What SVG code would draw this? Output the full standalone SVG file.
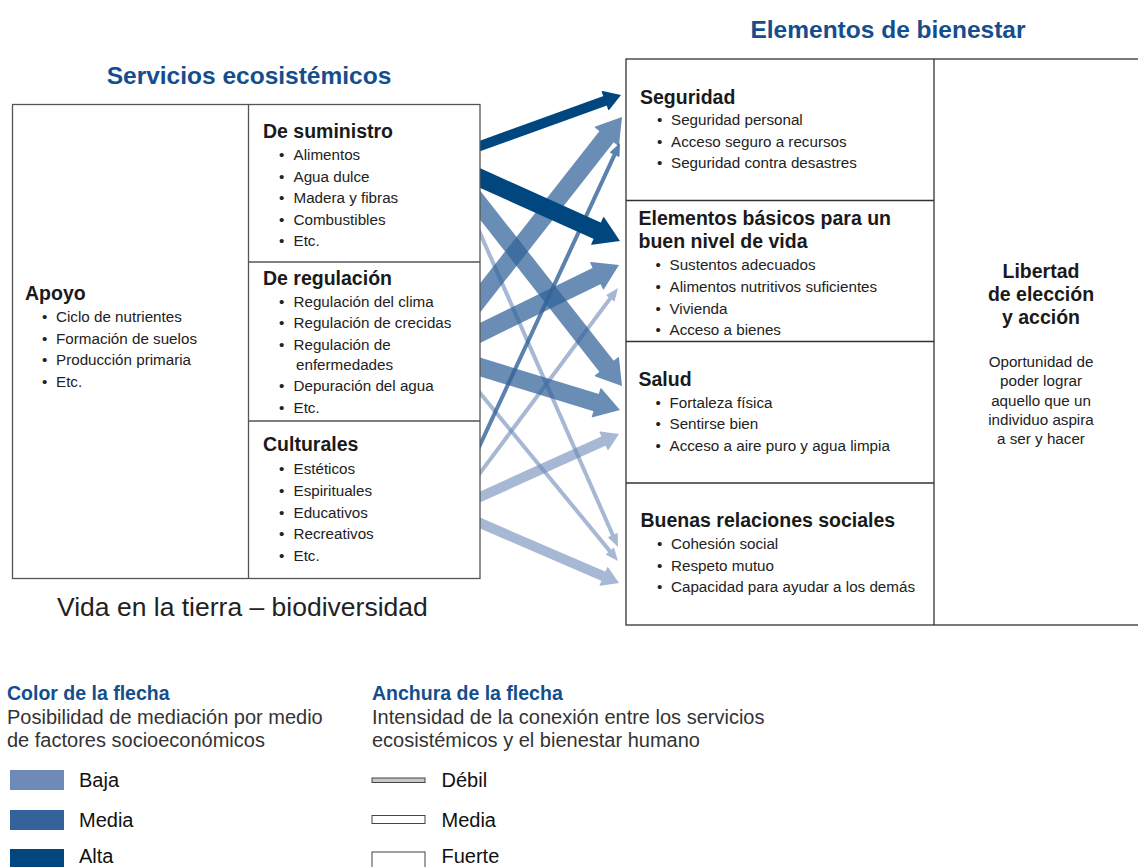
<svg xmlns="http://www.w3.org/2000/svg" width="1138" height="867" viewBox="0 0 1138 867">
<style>
text{font-family:"Liberation Sans",Arial,sans-serif}
.title{font-weight:bold;font-size:24.5px;fill:#144e8c}
.h{font-weight:bold;font-size:19.5px;fill:#1a1a1a}
.i{font-size:15.2px;fill:#222}
.c{text-anchor:middle}
.lh{font-weight:bold;font-size:19.5px;fill:#144e8c}
.lt{font-size:20px;fill:#333}
.box{fill:#fff;stroke:#555;stroke-width:1.3}
.div{stroke:#555;stroke-width:1.3;fill:none}
.rbox{fill:#fff;stroke:#333;stroke-width:1.3}
.rdiv{stroke:#333;stroke-width:1.3;fill:none}
.dark line{stroke:#00467f}
.med line{stroke:#33639a}
.light line{stroke:#6e8ab8}
.s{stroke-width:18}
.m{stroke-width:10}
.w{stroke-width:4}
</style>
<defs>
<marker id="m-dark-m" markerUnits="userSpaceOnUse" orient="auto" refX="0" refY="0" markerWidth="20" markerHeight="20" overflow="visible"><path d="M-1,-10 L0,-10 L16,0 L0,10 L-1,10Z" fill="#00467f"/></marker>
<marker id="m-dark-s" markerUnits="userSpaceOnUse" orient="auto" refX="0" refY="0" markerWidth="30" markerHeight="30" overflow="visible"><path d="M-1,-15 L0,-15 L24,0 L0,15 L-1,15Z" fill="#00467f"/></marker>
<marker id="m-med-s" markerUnits="userSpaceOnUse" orient="auto" refX="0" refY="0" markerWidth="30" markerHeight="30" overflow="visible"><path d="M-1,-15 L0,-15 L24,0 L0,15 L-1,15Z" fill="#33639a"/></marker>
<marker id="m-med-w" markerUnits="userSpaceOnUse" orient="auto" refX="0" refY="0" markerWidth="12" markerHeight="12" overflow="visible"><path d="M-1,-5 L0,-5 L12,0 L0,5 L-1,5Z" fill="#33639a"/></marker>
<marker id="m-light-w" markerUnits="userSpaceOnUse" orient="auto" refX="0" refY="0" markerWidth="12" markerHeight="12" overflow="visible"><path d="M-1,-5 L0,-5 L12,0 L0,5 L-1,5Z" fill="#6e8ab8"/></marker>
<marker id="m-light-m" markerUnits="userSpaceOnUse" orient="auto" refX="0" refY="0" markerWidth="20" markerHeight="20" overflow="visible"><path d="M-1,-10 L0,-10 L16,0 L0,10 L-1,10Z" fill="#6e8ab8"/></marker>
</defs>

<rect width="1138" height="867" fill="#fff"/>

<g id="connectors">
  <g class="light" opacity="0.6"><line class="w" x1="470" y1="210.24" x2="613.17" y2="536.02" marker-end="url(#m-light-w)"/></g>
  <g class="light" opacity="0.6"><line class="w" x1="470" y1="380.83" x2="610.38" y2="551.73" marker-end="url(#m-light-w)"/></g>
  <g class="light" opacity="0.6"><line class="w" x1="470" y1="486.41" x2="610.83" y2="297.62" marker-end="url(#m-light-w)"/></g>
  <g class="light" opacity="0.6"><line class="m" x1="470" y1="501.53" x2="604.43" y2="440.6" marker-end="url(#m-light-m)"/></g>
  <g class="light" opacity="0.6"><line class="m" x1="470" y1="518.68" x2="604.31" y2="576.66" marker-end="url(#m-light-m)"/></g>
  <g class="med" opacity="0.73"><line class="s" x1="470" y1="192.25" x2="607.19" y2="367.12" marker-end="url(#m-med-s)"/></g>
  <g class="med" opacity="0.73"><line class="s" x1="470" y1="310.75" x2="607.19" y2="135.88" marker-end="url(#m-med-s)"/></g>
  <g class="med" opacity="0.73"><line class="s" x1="470" y1="337.89" x2="597.44" y2="275.55" marker-end="url(#m-med-s)"/></g>
  <g class="med" opacity="0.73"><line class="s" x1="470" y1="363.93" x2="597.06" y2="402.95" marker-end="url(#m-med-s)"/></g>
  <g class="med" opacity="0.8"><line class="w" x1="470" y1="466.57" x2="614.95" y2="153.89" marker-end="url(#m-med-w)"/></g>
  <g class="dark"><line class="m" x1="470" y1="149.6" x2="605.95" y2="100.44" marker-end="url(#m-dark-m)"/></g>
  <g class="dark"><line class="s" x1="470" y1="173.5" x2="598.1" y2="231.15" marker-end="url(#m-dark-s)"/></g>
</g>

<g id="servicios-ecosistemicos">
  <text class="title c" x="249" y="84">Servicios ecosistémicos</text>
  <rect class="box" x="12.5" y="104.5" width="467.5" height="474"/>
  <path class="div" d="M248.5,104.5 V578.5 M248.5,262 H480 M248.5,421 H480"/>
  <g id="apoyo">
    <text class="h" x="25" y="300">Apoyo</text>
    <text class="i" y="322"><tspan x="42">•</tspan><tspan x="56">Ciclo de nutrientes</tspan></text>
    <text class="i" y="343.5"><tspan x="42">•</tspan><tspan x="56">Formación de suelos</tspan></text>
    <text class="i" y="365"><tspan x="42">•</tspan><tspan x="56">Producción primaria</tspan></text>
    <text class="i" y="386.5"><tspan x="42">•</tspan><tspan x="56">Etc.</tspan></text>
  </g>
  <g id="suministro">
    <text class="h" x="263" y="138">De suministro</text>
    <text class="i" y="160"><tspan x="279">•</tspan><tspan x="293.5">Alimentos</tspan></text>
    <text class="i" y="181.5"><tspan x="279">•</tspan><tspan x="293.5">Agua dulce</tspan></text>
    <text class="i" y="203"><tspan x="279">•</tspan><tspan x="293.5">Madera y fibras</tspan></text>
    <text class="i" y="224.5"><tspan x="279">•</tspan><tspan x="293.5">Combustibles</tspan></text>
    <text class="i" y="246"><tspan x="279">•</tspan><tspan x="293.5">Etc.</tspan></text>
  </g>
  <g id="regulacion">
    <text class="h" x="263" y="284.5">De regulación</text>
    <text class="i" y="306.5"><tspan x="279">•</tspan><tspan x="293.5">Regulación del clima</tspan></text>
    <text class="i" y="328"><tspan x="279">•</tspan><tspan x="293.5">Regulación de crecidas</tspan></text>
    <text class="i" y="350"><tspan x="279">•</tspan><tspan x="293.5">Regulación de</tspan></text>
    <text class="i" x="296" y="370">enfermedades</text>
    <text class="i" y="391"><tspan x="279">•</tspan><tspan x="293.5">Depuración del agua</tspan></text>
    <text class="i" y="412.5"><tspan x="279">•</tspan><tspan x="293.5">Etc.</tspan></text>
  </g>
  <g id="culturales">
    <text class="h" x="263" y="451">Culturales</text>
    <text class="i" y="474"><tspan x="279">•</tspan><tspan x="293.5">Estéticos</tspan></text>
    <text class="i" y="496"><tspan x="279">•</tspan><tspan x="293.5">Espirituales</tspan></text>
    <text class="i" y="517.5"><tspan x="279">•</tspan><tspan x="293.5">Educativos</tspan></text>
    <text class="i" y="539"><tspan x="279">•</tspan><tspan x="293.5">Recreativos</tspan></text>
    <text class="i" y="561"><tspan x="279">•</tspan><tspan x="293.5">Etc.</tspan></text>
  </g>
  <text x="57" y="616" style="font-size:26.5px;fill:#222">Vida en la tierra – biodiversidad</text>
</g>

<g id="elementos-bienestar">
  <text class="title c" x="888" y="38">Elementos de bienestar</text>
  <rect class="rbox" x="626" y="59" width="530" height="566"/>
  <path class="rdiv" d="M934,59 V625 M626,200.5 H934 M626,341.5 H934 M626,483 H934"/>
  <g id="seguridad">
    <text class="h" x="640" y="103.5">Seguridad</text>
    <text class="i" y="125"><tspan x="657">•</tspan><tspan x="671">Seguridad personal</tspan></text>
    <text class="i" y="146.5"><tspan x="657">•</tspan><tspan x="671">Acceso seguro a recursos</tspan></text>
    <text class="i" y="168"><tspan x="657">•</tspan><tspan x="671">Seguridad contra desastres</tspan></text>
  </g>
  <g id="elementos-basicos">
    <text class="h" x="638.5" y="224.5">Elementos básicos para un</text>
    <text class="h" x="638.5" y="248">buen nivel de vida</text>
    <text class="i" y="270"><tspan x="655.5">•</tspan><tspan x="669.5">Sustentos adecuados</tspan></text>
    <text class="i" y="291.5"><tspan x="655.5">•</tspan><tspan x="669.5">Alimentos nutritivos suficientes</tspan></text>
    <text class="i" y="313.5"><tspan x="655.5">•</tspan><tspan x="669.5">Vivienda</tspan></text>
    <text class="i" y="335"><tspan x="655.5">•</tspan><tspan x="669.5">Acceso a bienes</tspan></text>
  </g>
  <g id="salud">
    <text class="h" x="638.5" y="386">Salud</text>
    <text class="i" y="407.5"><tspan x="655.5">•</tspan><tspan x="669.5">Fortaleza física</tspan></text>
    <text class="i" y="429"><tspan x="655.5">•</tspan><tspan x="669.5">Sentirse bien</tspan></text>
    <text class="i" y="450.5"><tspan x="655.5">•</tspan><tspan x="669.5">Acceso a aire puro y agua limpia</tspan></text>
  </g>
  <g id="relaciones-sociales">
    <text class="h" x="640.5" y="527">Buenas relaciones sociales</text>
    <text class="i" y="549"><tspan x="657">•</tspan><tspan x="671">Cohesión social</tspan></text>
    <text class="i" y="570.5"><tspan x="657">•</tspan><tspan x="671">Respeto mutuo</tspan></text>
    <text class="i" y="592"><tspan x="657">•</tspan><tspan x="671">Capacidad para ayudar a los demás</tspan></text>
  </g>
  <g id="libertad">
    <text class="h c" x="1041" y="277.5">Libertad</text>
    <text class="h c" x="1041" y="300.5">de elección</text>
    <text class="h c" x="1041" y="323.5">y acción</text>
    <text class="i c" x="1041" y="367">Oportunidad de</text>
    <text class="i c" x="1041" y="386">poder lograr</text>
    <text class="i c" x="1041" y="405.5">aquello que un</text>
    <text class="i c" x="1041" y="425">individuo aspira</text>
    <text class="i c" x="1041" y="444">a ser y hacer</text>
  </g>
</g>

<g id="leyenda-color">
  <text class="lh" x="7" y="700">Color de la flecha</text>
  <text class="lt" x="7" y="724">Posibilidad de mediación por medio</text>
  <text class="lt" x="7" y="747">de factores socioeconómicos</text>
  <rect x="10" y="770" width="54" height="20" fill="#6e8ab8"/>
  <text class="lt" x="79" y="787" style="fill:#111">Baja</text>
  <rect x="10" y="810" width="54" height="20" fill="#33639a"/>
  <text class="lt" x="79" y="827" style="fill:#111">Media</text>
  <rect x="10" y="849" width="54" height="20" fill="#00467f"/>
  <text class="lt" x="79" y="862.5" style="fill:#111">Alta</text>
</g>

<g id="leyenda-anchura">
  <text class="lh" x="372" y="700">Anchura de la flecha</text>
  <text class="lt" x="372" y="724">Intensidad de la conexión entre los servicios</text>
  <text class="lt" x="372" y="747">ecosistémicos y el bienestar humano</text>
  <rect x="372" y="778" width="53" height="4.5" fill="#c8c8c8" stroke="#444" stroke-width="1"/>
  <text class="lt" x="441.5" y="787" style="fill:#111">Débil</text>
  <rect x="372" y="815.5" width="53" height="8" fill="#fff" stroke="#444" stroke-width="1"/>
  <text class="lt" x="441.5" y="827" style="fill:#111">Media</text>
  <rect x="372" y="852" width="53" height="20" fill="#fff" stroke="#444" stroke-width="1"/>
  <text class="lt" x="441.5" y="862.5" style="fill:#111">Fuerte</text>
</g>
</svg>
